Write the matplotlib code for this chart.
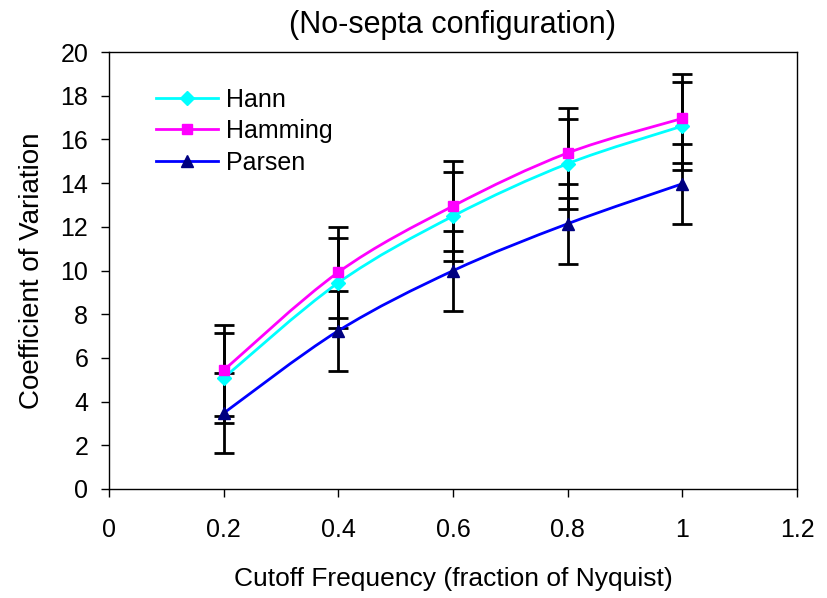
import matplotlib
matplotlib.use("Agg")
import matplotlib.pyplot as plt
from matplotlib.path import Path
from matplotlib.patches import PathPatch
from matplotlib.lines import Line2D

plt.rcParams['font.family'] = ['Liberation Sans', 'DejaVu Sans']

# data
cutoff = [0.2, 0.4, 0.6, 0.8, 1.0]
hann = [5.08, 9.44, 12.49, 14.89, 16.61]
hamming = [5.43, 9.92, 12.95, 15.38, 16.96]
parsen = [3.47, 7.24, 9.99, 12.14, 13.97]
hann_err = [2.05, 2.05, 2.04, 2.06, 2.02]
hamming_err = [2.08, 2.08, 2.04, 2.06, 2.04]
parsen_err = [1.84, 1.83, 1.83, 1.83, 1.82]

xticks = [0, 0.2, 0.4, 0.6, 0.8, 1.0, 1.2]
xticklabels = ['0', '0.2', '0.4', '0.6', '0.8', '1', '1.2']
yticks = list(range(0, 21, 2))


def smooth_path(xs, ys):
    # excel-like smoothed line: cubic bezier through the points
    verts = [(xs[0], ys[0])]
    codes = [Path.MOVETO]
    n = len(xs)
    for i in range(n - 1):
        x0, y0 = (xs[i - 1], ys[i - 1]) if i > 0 else (xs[i], ys[i])
        x1, y1 = xs[i], ys[i]
        x2, y2 = xs[i + 1], ys[i + 1]
        x3, y3 = (xs[i + 2], ys[i + 2]) if i + 2 < n else (x2, y2)
        c1 = (x1 + (x2 - x0) / 6, y1 + (y2 - y0) / 6)
        c2 = (x2 - (x3 - x1) / 6, y2 - (y3 - y1) / 6)
        verts += [c1, c2, (x2, y2)]
        codes += [Path.CURVE4] * 3
    return Path(verts, codes)


fig = plt.figure(figsize=(8.28, 5.98), dpi=100)
ax = fig.add_axes([0.1316, 0.1823, 0.8310, 0.7307])

series = [
    ('Hann', hann, hann_err, '#00FFFF', '#00FFFF', 'D', 7),
    ('Hamming', hamming, hamming_err, '#FF00FF', '#FF00FF', 's', 7),
    ('Parsen', parsen, parsen_err, '#0000FF', '#000080', '^', 9),
]

handles = []
for name, vals, err, lc, mc, mk, ms in series:
    ax.errorbar(cutoff, vals, yerr=err, fmt='none', ecolor='black',
                elinewidth=2, capsize=7, capthick=2, zorder=2)
for name, vals, err, lc, mc, mk, ms in series:
    ax.add_patch(PathPatch(smooth_path(cutoff, vals), facecolor='none',
                           edgecolor=lc, lw=2, zorder=3))
    ax.plot(cutoff, vals, linestyle='none', marker=mk, markersize=ms,
            color=mc, zorder=4)
    handles.append(Line2D([], [], color=lc, lw=2, marker=mk, markersize=ms,
                          markerfacecolor=mc, markeredgecolor=mc))

ax.set_xlim(0, 1.2)
ax.set_ylim(0, 20)
ax.set_xticks(xticks)
ax.set_xticklabels(xticklabels)
ax.set_yticks(yticks)
ax.tick_params(labelsize=18, direction='out', length=6, width=1)
ax.tick_params(axis='x', pad=15)
ax.tick_params(axis='y', pad=9)
for s in ax.spines.values():
    s.set_linewidth(1)

ax.set_title('(No-septa configuration)', fontsize=22, pad=14)
ax.set_xlabel('Cutoff Frequency (fraction of Nyquist)', fontsize=19, labelpad=18)
ax.set_ylabel('Coefficient of Variation', fontsize=20, labelpad=11)

ax.legend(handles, ['Hann', 'Hamming', 'Parsen'], loc='upper left',
          bbox_to_anchor=(0.035, 0.97), frameon=False, fontsize=18,
          handlelength=2.5, labelspacing=0.3, handletextpad=0.3)

fig.savefig('out.png', dpi=100)
